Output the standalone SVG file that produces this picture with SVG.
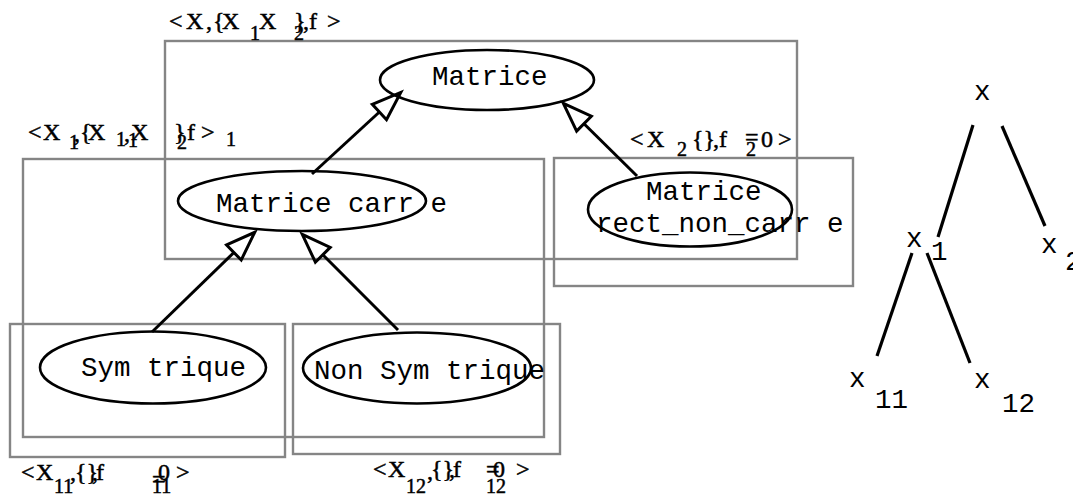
<svg xmlns="http://www.w3.org/2000/svg" width="1073" height="497" viewBox="0 0 1073 497">
<style>
.box{fill:none;stroke:#858585;stroke-width:2.4}
.ell{fill:none;stroke:#000;stroke-width:2.6}
.mono{font-family:"Liberation Mono","Courier New",monospace;font-size:27.5px;fill:#000}
.lbl{font-family:"Liberation Serif","Times New Roman",serif;font-size:24px;fill:#000;stroke:#000;stroke-width:0.5}
.sub{font-size:20px}
.arr{fill:none;stroke:#000;stroke-width:3;marker-end:url(#tri)}
.edge{fill:none;stroke:#000;stroke-width:3.2}
</style>
<defs>
<marker id="tri" markerUnits="userSpaceOnUse" markerWidth="40" markerHeight="30" viewBox="0 0 40 30" refX="2" refY="15" orient="auto" overflow="visible">
<path d="M2,4.5 L31,15 L2,25.5 Z" fill="none" stroke="#000" stroke-width="3" stroke-linejoin="miter"/>
</marker>
</defs>

<g id="box-X">
<rect class="box" x="165" y="41" width="632" height="218"/>
<text class="lbl"><tspan x="169" y="29">&lt;</tspan><tspan x="186" y="29">X</tspan><tspan x="206" y="29">,</tspan><tspan x="213" y="29">{</tspan><tspan x="222" y="29">X</tspan><tspan class="sub" x="250" y="40">1</tspan><tspan x="259" y="29">X</tspan><tspan x="294" y="29">}</tspan><tspan class="sub" x="294" y="40">2</tspan><tspan x="303" y="29">,</tspan><tspan x="309" y="29">f</tspan><tspan x="327" y="29">&gt;</tspan></text>
</g>

<g id="box-X1">
<rect class="box" x="23" y="159" width="521" height="278"/>
<text class="lbl"><tspan x="28" y="140">&lt;</tspan><tspan x="43" y="140">X</tspan><tspan class="sub" x="69" y="149">1</tspan><tspan x="74" y="141">,</tspan><tspan x="80" y="140">{</tspan><tspan x="88" y="140">X</tspan><tspan class="sub" x="116" y="146">1</tspan><tspan x="124" y="141">,</tspan><tspan class="sub" x="128" y="147">1</tspan><tspan x="131" y="140">X</tspan><tspan x="174" y="140">}</tspan><tspan class="sub" x="177" y="149">2</tspan><tspan x="187" y="140">f</tspan><tspan x="201" y="140">&gt;</tspan><tspan class="sub" x="226" y="146">1</tspan></text>
</g>

<g id="box-X2">
<rect class="box" x="554" y="158" width="299" height="128"/>
<text class="lbl"><tspan x="630" y="147">&lt;</tspan><tspan x="647" y="147">X</tspan><tspan class="sub" x="677" y="156">2</tspan><tspan x="692" y="147">{}</tspan><tspan x="713" y="147">,</tspan><tspan x="719" y="147">f</tspan><tspan x="745" y="145">=</tspan><tspan class="sub" x="746" y="156">2</tspan><tspan x="761" y="147">0</tspan><tspan x="778" y="147">&gt;</tspan></text>
</g>

<g id="box-X11">
<rect class="box" x="10" y="324" width="275" height="133"/>
<text class="lbl"><tspan x="21" y="480">&lt;</tspan><tspan x="36" y="480">X</tspan><tspan class="sub" x="54" y="493">11</tspan><tspan x="70" y="480">,</tspan><tspan x="75" y="480">{}</tspan><tspan x="92" y="480">,</tspan><tspan x="96" y="480">f</tspan><tspan x="152" y="487">=</tspan><tspan class="sub" x="152" y="493">11</tspan><tspan x="158" y="480">0</tspan><tspan x="176" y="480">&gt;</tspan></text>
</g>

<g id="box-X12">
<rect class="box" x="293" y="324" width="267" height="130"/>
<text class="lbl"><tspan x="373" y="477">&lt;</tspan><tspan x="388" y="477">X</tspan><tspan class="sub" x="406" y="493">12</tspan><tspan x="427" y="479">,</tspan><tspan x="431" y="477">{}</tspan><tspan x="449" y="477">,</tspan><tspan x="453" y="477">f</tspan><tspan x="486" y="477">=</tspan><tspan class="sub" x="486" y="493">12</tspan><tspan x="493" y="477">0</tspan><tspan x="516" y="477">&gt;</tspan></text>
</g>

<g id="node-matrice">
<ellipse class="ell" cx="487" cy="80" rx="107" ry="30"/>
<text class="mono" x="432" y="85">Matrice</text>
</g>

<g id="node-matrice-carree">
<ellipse class="ell" cx="302" cy="201" rx="124" ry="30"/>
<text class="mono" x="216" y="212">Matrice carr e</text>
</g>

<g id="node-matrice-rect">
<ellipse class="ell" cx="690" cy="209.5" rx="102" ry="37"/>
<text class="mono" x="646" y="200">Matrice</text>
<text class="mono" x="596" y="232">rect_non_carr e</text>
</g>

<g id="node-symetrique">
<ellipse class="ell" cx="153" cy="367.5" rx="113" ry="36"/>
<text class="mono" x="81" y="376">Sym trique</text>
</g>

<g id="node-non-symetrique">
<ellipse class="ell" cx="417" cy="368" rx="114" ry="35.5"/>
<text class="mono" x="314" y="379">Non Sym trique</text>
</g>

<g id="tree-x"><text class="mono" x="974" y="100">x</text></g>
<g id="tree-x1"><text class="mono" x="906" y="247">x</text><text class="mono" x="931" y="260">1</text></g>
<g id="tree-x2"><text class="mono" x="1041" y="253">x</text><text class="mono" x="1065" y="270">2</text></g>
<g id="tree-x11"><text class="mono" x="849" y="387">x</text><text class="mono" x="875" y="408">11</text></g>
<g id="tree-x12"><text class="mono" x="974" y="388">x</text><text class="mono" x="1002" y="412">12</text></g>

<g id="connectors">
<path class="arr" d="M312,174 L379.4,112"/>
<path class="arr" d="M637,176 L584,123.7"/>
<path class="arr" d="M152,332 L233.9,252.5"/>
<path class="arr" d="M398,330 L322.8,254.8"/>
<path class="edge" d="M973,125 L938,237"/>
<path class="edge" d="M1002,126 L1045,226"/>
<path class="edge" d="M912,253 L877,356"/>
<path class="edge" d="M927,253 L970,363"/>
</g>
</svg>
